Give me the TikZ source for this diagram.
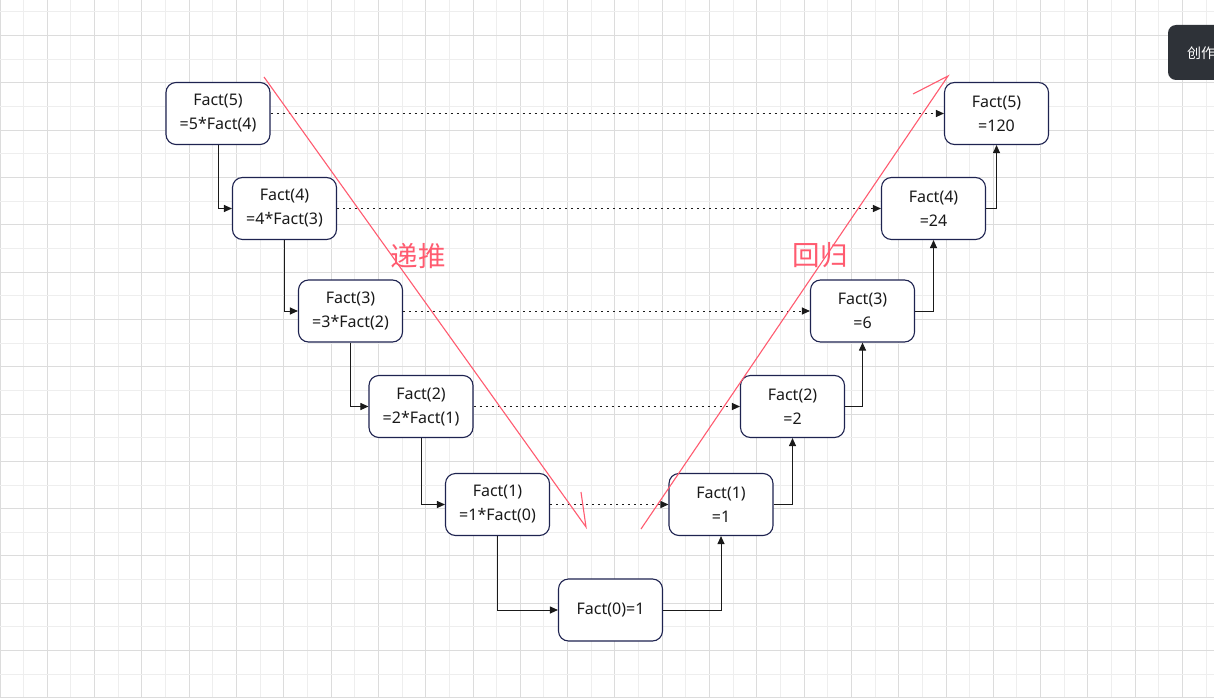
\documentclass[tikz,border=0pt]{standalone}
\usepackage{fontspec}
\setmainfont{Noto Sans}
\newfontfamily\cjk{Noto Sans CJK SC}
\usetikzlibrary{arrows.meta}
\definecolor{redc}{HTML}{FF5B70}
\definecolor{boxc}{HTML}{1E2350}
\definecolor{txt}{HTML}{1A1A1A}
\definecolor{btn}{HTML}{2E3238}
\definecolor{gminor}{HTML}{EEEEEE}
\definecolor{gmajor}{HTML}{DCDCDC}
\begin{document}
\begin{tikzpicture}[x=1pt,y=-1pt,
 fbox/.style={draw=boxc, line width=1.1pt, rounded corners=10pt, minimum width=104pt, minimum height=62pt, fill=white, align=center, font=\fontsize{16}{24}\selectfont, text=txt, inner sep=0pt},
 link/.style={line width=1pt, draw=txt, -{Triangle[length=8pt,width=7pt]}},
 dotlink/.style={line width=1pt, draw=txt, dash pattern=on 2pt off 4pt, -{Triangle[length=8pt,width=7pt]}},
 redl/.style={draw=redc, line width=1.1pt},
 redt/.style={text=redc, font=\cjk\fontsize{27.5}{27.5}\selectfont}]
\useasboundingbox (0,0) rectangle (1214,698);
\begin{scope}
\clip (0,0) rectangle (1214,698);
\fill[white] (0,0) rectangle (1214,698);
\foreach \i in {0,...,52} {
  \pgfmathsetmacro{\xx}{23.65*\i}
  \ifodd\i \draw[gminor, line width=1pt] (\xx,0) -- (\xx,698);
  \else \draw[gmajor, line width=1pt] (\xx,0) -- (\xx,698); \fi
}
\foreach \i in {0,...,30} {
  \pgfmathsetmacro{\yy}{12+23.65*\i}
  \ifodd\i \draw[gmajor, line width=1pt] (0,\yy) -- (1214,\yy);
  \else \draw[gminor, line width=1pt] (0,\yy) -- (1214,\yy); \fi
}

\node[fbox] (l5) at (218,113.5) {Fact(5)\\=5*Fact(4)};
\node[fbox] (l4) at (284.5,208.5) {Fact(4)\\=4*Fact(3)};
\node[fbox] (l3) at (350.5,311) {Fact(3)\\=3*Fact(2)};
\node[fbox] (l2) at (421,406.5) {Fact(2)\\=2*Fact(1)};
\node[fbox] (l1) at (497.5,504.5) {Fact(1)\\=1*Fact(0)};
\node[fbox] (f0) at (610.5,610) {Fact(0)=1};
\node[fbox] (r1) at (721,504.5) {Fact(1)\\=1};
\node[fbox] (r2) at (792.5,406.5) {Fact(2)\\=2};
\node[fbox] (r3) at (862.5,311) {Fact(3)\\=6};
\node[fbox] (r4) at (933.5,208.5) {Fact(4)\\=24};
\node[fbox] (r5) at (996.5,113.5) {Fact(5)\\=120};

\draw[link] (l5.south) |- (l4.west);
\draw[link] (l4.south) |- (l3.west);
\draw[link] (l3.south) |- (l2.west);
\draw[link] (l2.south) |- (l1.west);
\draw[link] (l1.south) |- (f0.west);
\draw[link] (f0.east) -| (r1.south);
\draw[link] (r1.east) -| (r2.south);
\draw[link] (r2.east) -| (r3.south);
\draw[link] (r3.east) -| (r4.south);
\draw[link] (r4.east) -| (r5.south);

\draw[dotlink] (l5.east) -- (r5.west);
\draw[dotlink] (l4.east) -- (r4.west);
\draw[dotlink] (l3.east) -- (r3.west);
\draw[dotlink] (l2.east) -- (r2.west);
\draw[dotlink] (l1.east) -- (r1.west);

\coordinate (a1) at (264,77);
\coordinate (a2) at (586,527);
\coordinate (a3) at (581,492);
\draw[redl] (a1) -- (a2) -- (a3);
\coordinate (b1) at (641,529);
\coordinate (b2) at (948,76);
\coordinate (b3) at (913,94);
\draw[redl] (b1) -- (b2) -- (b3);

\node[redt] (t1) at (418,256) {递推};
\node[redt] (t2) at (820,255) {回归};

\fill[btn, rounded corners=8pt] (1168,25) rectangle (1260,80);
\node[text=white, font=\cjk\fontsize{14}{14}\selectfont, anchor=west, inner sep=0pt] (bt) at (1187,53) {创作};
\end{scope}
\end{tikzpicture}
\end{document}
